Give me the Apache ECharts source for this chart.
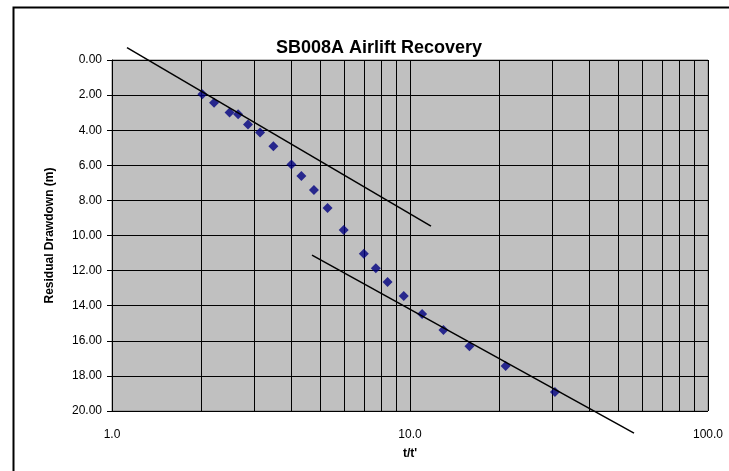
<!DOCTYPE html>
<html>
<head>
<meta charset="utf-8">
<script src="https://cdn.jsdelivr.net/npm/echarts@6/dist/echarts.min.js"></script>
<style>html,body{margin:0;padding:0;background:#fff;}#c{width:729px;height:471px;}</style>
</head>
<body>
<div id="c"></div>
<script>
var ratio = [2.01, 2.20, 2.48, 2.65, 2.86, 3.14, 3.48, 4.00, 4.32, 4.76, 5.29, 5.99, 7.00, 7.68, 8.41, 9.53, 10.98, 12.95, 15.83, 20.94, 30.65];
var drawdown = [1.95, 2.43, 2.99, 3.09, 3.67, 4.13, 4.92, 5.95, 6.61, 7.41, 8.43, 9.68, 11.04, 11.86, 12.65, 13.45, 14.47, 15.38, 16.31, 17.43, 18.92];
var trend1 = [[1.123, -0.71], [11.76, 9.47]];
var trend2 = [[4.69, 11.12], [56.45, 21.26]];
var minorX = [2, 3, 4, 5, 6, 7, 8, 9, 20, 30, 40, 50, 60, 70, 80, 90];
var yTicks = {min: 0, max: 20, interval: 2};
var xRange = {min: 1, max: 100};

var font = 'Liberation Sans, Arial, sans-serif';
var chart = echarts.init(document.getElementById('c'), null, {renderer: 'canvas'});
var pts = ratio.map(function (r, i) { return [r, drawdown[i]]; });

chart.setOption({
  animation: false,
  backgroundColor: '#fff',
  graphic: [{
    type: 'rect', left: 11, top: 5, z: 100,
    shape: {x: 0, y: 0, width: 800, height: 600},
    style: {fill: 'none', stroke: '#000', lineWidth: 2}
  }],
  title: {
    text: 'SB008A Airlift Recovery',
    left: 374, top: 34, textAlign: 'center',
    textStyle: {fontFamily: font, fontSize: 18, fontWeight: 'bold', color: '#000'}
  },
  grid: {
    left: 112, right: 21, top: 60, bottom: 60,
    show: true, backgroundColor: '#C0C0C0', borderColor: '#808080', borderWidth: 1
  },
  xAxis: {
    type: 'log', logBase: 10, min: xRange.min, max: xRange.max,
    name: "t/t'", nameLocation: 'middle', nameGap: 37,
    nameTextStyle: {fontFamily: font, fontSize: 12, fontWeight: 'bold', color: '#000'},
    axisLine: {show: true, lineStyle: {color: '#000', width: 1}},
    axisTick: {show: true, length: 5, lineStyle: {color: '#000'}},
    axisLabel: {fontFamily: font, fontSize: 12, color: '#000', margin: 18,
      formatter: function (v) { return Number(v).toFixed(1); }},
    splitLine: {show: true, lineStyle: {color: '#000', width: 1}},
    minorTick: {show: false}, minorSplitLine: {show: false}
  },
  yAxis: {
    type: 'value', inverse: true, min: yTicks.min, max: yTicks.max, interval: yTicks.interval,
    name: 'Residual Drawdown (m)', nameLocation: 'middle', nameGap: 56, nameRotate: 90,
    nameTextStyle: {fontFamily: font, fontSize: 12, fontWeight: 'bold', color: '#000'},
    axisLine: {show: true, lineStyle: {color: '#000', width: 1}},
    axisTick: {show: true, length: 5, lineStyle: {color: '#000'}},
    axisLabel: {fontFamily: font, fontSize: 12, color: '#000', margin: 10,
      formatter: function (v) { return Number(v).toFixed(2); }},
    splitLine: {show: true, lineStyle: {color: '#000', width: 1}}
  },
  series: [
    {
      type: 'scatter', data: pts, symbol: 'diamond', symbolSize: 10,
      itemStyle: {color: '#000080'}, z: 5,
      markLine: {
        silent: true, symbol: 'none', animation: false,
        label: {show: false},
        lineStyle: {color: '#000', width: 1, type: 'solid'},
        data: minorX.map(function (x) { return {xAxis: x}; }),
        z: 1
      }
    },
    {
      type: 'line', data: trend1, clip: false, showSymbol: false, symbol: 'none',
      lineStyle: {color: '#000', width: 1.5}, z: 6
    },
    {
      type: 'line', data: trend2, clip: false, showSymbol: false, symbol: 'none',
      lineStyle: {color: '#000', width: 1.5}, z: 6
    }
  ]
});
</script>
</body>
</html>
